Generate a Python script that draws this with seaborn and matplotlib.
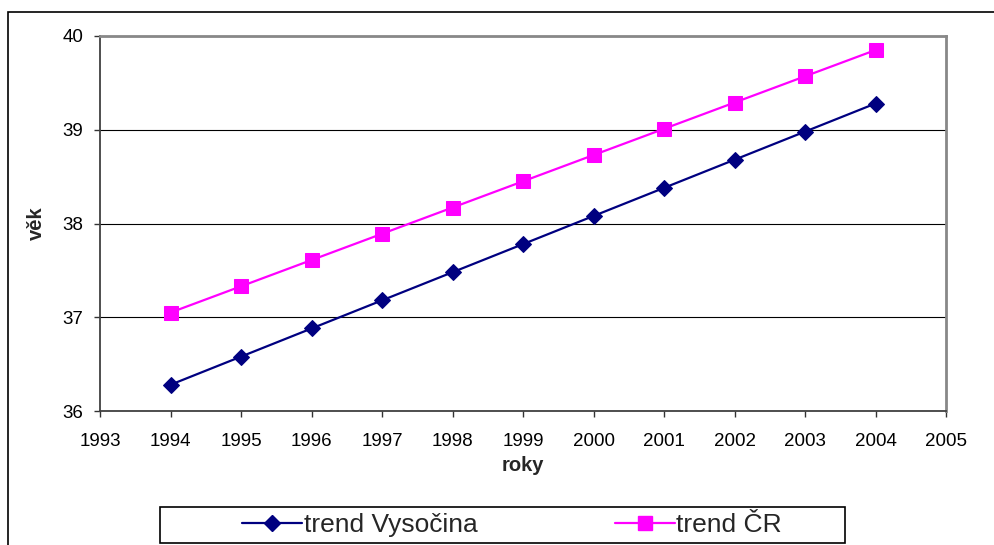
import matplotlib
matplotlib.use("Agg")
import matplotlib.pyplot as plt
from matplotlib.patches import Rectangle
from matplotlib.lines import Line2D
import seaborn as sns
import pandas as pd

# Average age trend, 1994-2004
years = [1994, 1995, 1996, 1997, 1998, 1999, 2000, 2001, 2002, 2003, 2004]
vysocina = [36.28, 36.58, 36.88, 37.18, 37.48, 37.78, 38.08, 38.38, 38.68, 38.98, 39.28]
cr = [37.05, 37.33, 37.61, 37.89, 38.17, 38.45, 38.73, 39.01, 39.29, 39.57, 39.85]
series_names = ["trend Vysočina", "trend ČR"]
x_ticks = [1993, 1994, 1995, 1996, 1997, 1998, 1999, 2000, 2001, 2002, 2003, 2004, 2005]
y_ticks = [36, 37, 38, 39, 40]

sns.set_style("white")
plt.rcParams["font.family"] = ["Liberation Sans", "DejaVu Sans"]

W, H = 994, 545
fig = plt.figure(figsize=(W / 100, H / 100), dpi=100)
ax = fig.add_axes([100 / W, 1 - 411 / H, 846 / W, 375 / H])

df_v = pd.DataFrame({"rok": years, "vek": vysocina})
df_c = pd.DataFrame({"rok": years, "vek": cr})

sns.lineplot(data=df_v, x="rok", y="vek", ax=ax, color="#000080", marker="D",
             markersize=8.5, markeredgecolor="#000080", linewidth=1.6, zorder=4)
sns.lineplot(data=df_c, x="rok", y="vek", ax=ax, color="#FF00FF", marker="s",
             markersize=10.5, markeredgecolor="#FF00FF", linewidth=1.6, zorder=4)

ax.set_xlim(1993, 2005)
ax.set_ylim(36, 40)
ax.set_xticks(x_ticks)
ax.set_yticks(y_ticks)
ax.set_xticklabels([str(v) for v in x_ticks])
ax.set_yticklabels([str(v) for v in y_ticks])
ax.tick_params(axis="both", direction="out", length=4, width=1, color="#333333",
               labelsize=13.5, labelcolor="black")
ax.tick_params(axis="x", bottom=True, pad=11.5)
ax.tick_params(axis="y", left=True, pad=8)

ax.grid(axis="y", color="black", linewidth=0.8)
ax.grid(axis="x", visible=False)
ax.set_axisbelow(True)

for side in ["left", "bottom"]:
    ax.spines[side].set_color("#404040")
    ax.spines[side].set_linewidth(1.3)
for side in ["top", "right"]:
    ax.spines[side].set_color("#888888")
    ax.spines[side].set_linewidth(2)

ax.set_xlabel("roky", fontsize=14.5, fontweight="bold", labelpad=5)
ax.set_ylabel("věk", fontsize=14.5, fontweight="bold", labelpad=12)

# Outer chart border (extends past the right and bottom edges)
fig.add_artist(Rectangle((8 / W, -0.1), 1.2, (H - 12) / H + 0.1,
                         transform=fig.transFigure, fill=False,
                         edgecolor="black", linewidth=1.2))

# Legend box
fig.add_artist(Rectangle((160 / W, 1 - 543 / H), 685 / W, 36 / H,
                         transform=fig.transFigure, facecolor="white",
                         edgecolor="black", linewidth=1.2, zorder=5))

handles = [
    Line2D([], [], color="#000080", marker="D", markersize=8.5, linewidth=1.6),
    Line2D([], [], color="#FF00FF", marker="s", markersize=10.5, linewidth=1.6),
]
leg = fig.legend(handles, series_names, loc="center",
                 bbox_to_anchor=(512 / W, 1 - 525 / H), ncol=2, frameon=False,
                 fontsize=19, handlelength=2.27, handletextpad=0.05,
                 columnspacing=5.2, borderpad=0)
leg.set_zorder(6)

fig.savefig("out.png", dpi=100)
